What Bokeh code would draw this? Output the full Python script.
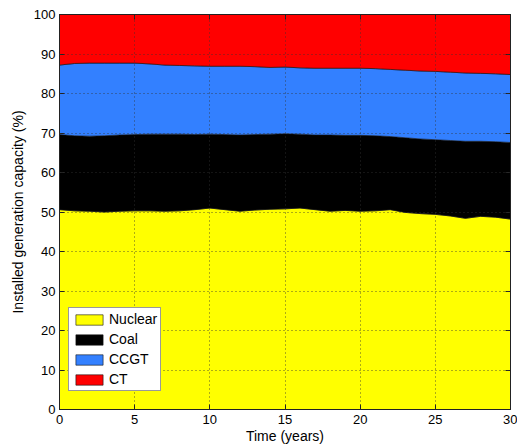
import numpy as np
from bokeh.plotting import figure
from bokeh.models import (LinearAxis, Legend, LegendItem, FixedTicker, Range1d,
                          CustomJSTickFormatter)
from bokeh.embed import file_html
from bokeh.resources import INLINE

years = list(range(0, 31))
nuclear = [50.6, 50.3, 50.2, 50.0, 50.2, 50.3, 50.3, 50.2, 50.3, 50.6, 51.0, 50.6, 50.2, 50.5, 50.7, 50.8,
           51.0, 50.6, 50.2, 50.4, 50.2, 50.3, 50.6, 49.9, 49.6, 49.4, 49.0, 48.4, 48.9, 48.7, 48.2]
coal = [19.0, 19.0, 19.0, 19.3, 19.3, 19.3, 19.4, 19.5, 19.4, 19.0, 18.7, 19.0, 19.3, 19.1, 19.0, 19.0,
        18.7, 18.9, 19.3, 19.0, 19.2, 19.0, 18.5, 18.9, 18.9, 18.9, 19.1, 19.5, 19.0, 19.1, 19.4]
ccgt = [17.6, 18.3, 18.5, 18.4, 18.2, 18.1, 17.8, 17.5, 17.4, 17.4, 17.2, 17.3, 17.4, 17.2, 16.9, 16.9,
        16.8, 16.9, 16.9, 17.0, 17.0, 17.0, 17.0, 17.1, 17.2, 17.3, 17.3, 17.3, 17.2, 17.2, 17.2]
ct = [12.8, 12.4, 12.3, 12.3, 12.3, 12.3, 12.5, 12.8, 12.9, 13.0, 13.1, 13.1, 13.1, 13.2, 13.4, 13.3,
      13.5, 13.6, 13.6, 13.6, 13.6, 13.7, 13.9, 14.1, 14.3, 14.4, 14.6, 14.8, 14.9, 15.0, 15.2]
names = ["Nuclear", "Coal", "CCGT", "CT"]
colors = ["#FFFF00", "#000000", "#3380FF", "#FF0000"]
x_ticks = [0, 5, 10, 15, 20, 25, 30]
y_ticks = [0, 10, 20, 30, 40, 50, 60, 70, 80, 90, 100]

FONT = "Liberation Sans"

p = figure(width=517, height=448, output_backend="svg", toolbar_location=None,
           x_range=Range1d(0, 30), y_range=Range1d(0, 100),
           min_border_left=59, min_border_right=7, min_border_top=14, min_border_bottom=39)
p.background_fill_color = "white"
p.border_fill_color = "white"
p.outline_line_color = "#222222"
p.outline_line_width = 1

series = [nuclear, coal, ccgt, ct]
base = np.zeros(len(years))
items = []
xs = np.array(years, dtype=float)
for name, vals, col in zip(names, series, colors):
    top = base + np.array(vals)
    px = np.concatenate([xs, xs[::-1]])
    py = np.concatenate([top, base[::-1]])
    r = p.patch(px, py, fill_color=col, line_color="#111111", line_width=0.6)
    items.append(LegendItem(label=name, renderers=[r]))
    base = top

for ax in (p.xaxis[0], p.yaxis[0]):
    ax.major_tick_in = 5
    ax.major_tick_out = 0
    ax.minor_tick_line_color = None
    ax.major_label_text_font = FONT
    ax.major_label_text_font_size = "13px"
    ax.major_label_text_color = "black"
    ax.axis_label_text_font = FONT
    ax.axis_label_text_font_size = "14px"
    ax.axis_label_text_font_style = "normal"
    ax.axis_label_text_color = "black"
    ax.axis_line_color = "#222222"
    ax.major_tick_line_color = "#222222"

p.xaxis[0].ticker = FixedTicker(ticks=x_ticks)
p.yaxis[0].ticker = FixedTicker(ticks=y_ticks)
p.xaxis[0].axis_label = "Time (years)"
p.yaxis[0].axis_label = "Installed generation capacity (%)"
p.xaxis[0].major_label_standoff = 5
p.yaxis[0].major_label_standoff = 4
p.xaxis[0].axis_label_standoff = 1
p.yaxis[0].axis_label_standoff = 5

blank = CustomJSTickFormatter(code="return '';")
for loc, tk in (("above", x_ticks), ("right", y_ticks)):
    a = LinearAxis(ticker=FixedTicker(ticks=tk), formatter=blank,
                   major_tick_in=5, major_tick_out=0, minor_tick_line_color=None,
                   major_label_standoff=0, axis_line_color="#222222",
                   major_tick_line_color="#222222")
    p.add_layout(a, loc)

for g, tk in ((p.xgrid[0], x_ticks), (p.ygrid[0], y_ticks)):
    g.ticker = FixedTicker(ticks=tk)
    g.grid_line_color = "#333333"
    g.grid_line_alpha = 0.8
    g.grid_line_dash = "1 3"
    g.grid_line_width = 1
    g.level = "guide"

legend = Legend(items=items, location=(9, 18))
legend.label_text_font = FONT
legend.label_text_font_size = "14px"
legend.label_text_color = "black"
legend.label_text_line_height = 1.0
legend.glyph_width = 34
legend.glyph_height = 13
legend.label_height = 13
legend.spacing = 4
legend.padding = 3
legend.margin = 0
legend.label_standoff = 3
legend.border_line_color = "#333333"
legend.background_fill_alpha = 1
p.add_layout(legend)

open("out.html", "w").write(file_html(p, INLINE))
